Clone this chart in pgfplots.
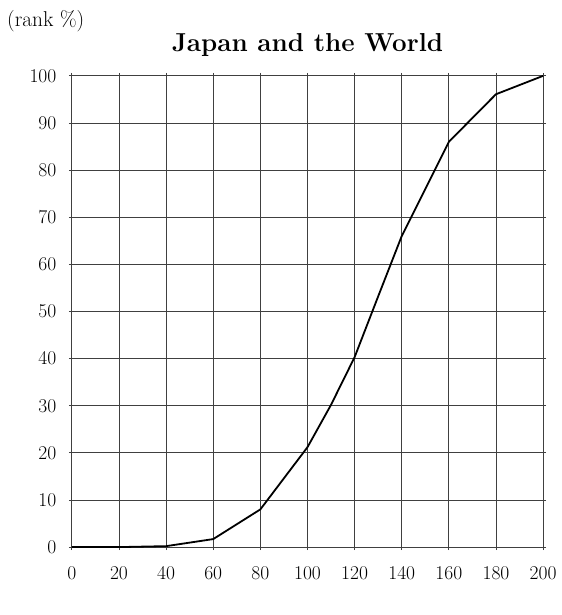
\documentclass[border=0pt]{standalone}
\usepackage{pgfplots}
\pgfplotsset{compat=1.18}
\begin{document}
\begin{tikzpicture}
\begin{axis}[
    scale only axis,
    width=472pt, height=472pt,
    xmin=0, xmax=200, ymin=0, ymax=100,
    xtick distance=20, ytick distance=10,
    grid=major,
    major grid style={black!75, line width=0.8pt},
    axis line style={black!75, line width=0.8pt},
    tick style={black!75, line width=0.8pt},
    tick align=outside,
    major tick length=3pt,
    ticklabel style={font=\fontsize{19.5}{22}\selectfont},
    /pgf/number format/assume math mode=true,
    yticklabel style={xshift=-9pt},
    xticklabel style={yshift=-13pt},
    clip=false,
]
\addplot[black, line width=1.8pt] coordinates {
    (0,0) (20,0) (40,0.2) (60,1.7) (80,8.0) (100,21.2) (110,30.2)
    (120,40.3) (130,53.2) (140,66.0) (160,86.0) (180,96.1) (200,100)
};
\node[anchor=base west, inner sep=0pt, font=\fontsize{21.5}{24}\selectfont] at (rel axis cs:-0.1377,1.1047) {(rank \%)};
\node[anchor=base, inner sep=0pt, font=\fontsize{26}{30}\selectfont\bfseries] at (rel axis cs:0.5,1.0508) {Japan and the World};
\path (rel axis cs:-0.1525,-0.1441) rectangle (rel axis cs:1.0381,1.161);
\end{axis}
\end{tikzpicture}
\end{document}
